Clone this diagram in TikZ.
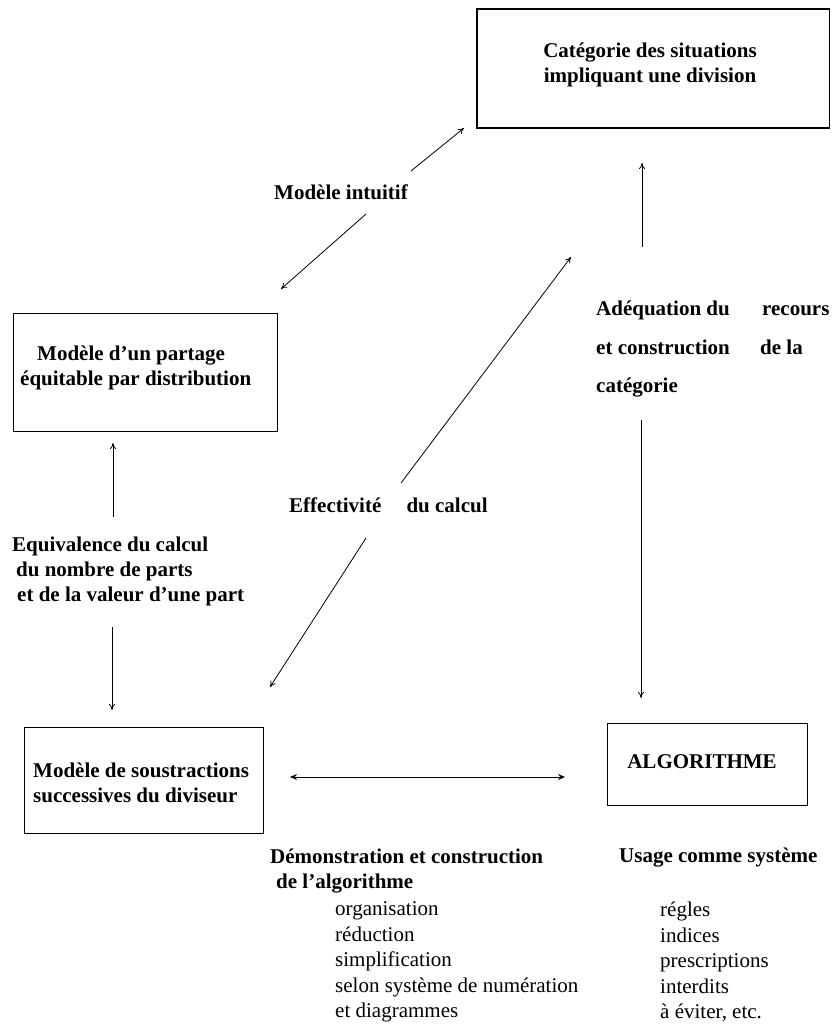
\documentclass[tikz,border=0pt]{standalone}
\usepackage{fontspec}
\setmainfont{Liberation Serif}
\usetikzlibrary{arrows.meta}
\begin{document}
\begin{tikzpicture}[x=1pt,y=-1pt,
  boxstyle/.style={draw, line width=1.1pt, inner sep=0pt},
  bold/.style={inner sep=0pt, font=\fontsize{21}{25}\selectfont\bfseries},
  plain/.style={inner sep=0pt, font=\fontsize{21}{25.5}\selectfont, align=left},
  conn/.style={line width=0.8pt, -{To[length=6pt,width=6pt]}},
  dbl/.style={line width=0.9pt, {Stealth[length=7pt,width=6pt]}-{Stealth[length=7pt,width=6pt]}}
]
\useasboundingbox (0,0) rectangle (831,1028);

% boxes
\draw[boxstyle] (477,9) rectangle (829.5,128);
\node[boxstyle, minimum width=264pt, minimum height=118pt, anchor=north west] (bpartage) at (13,313) {};
\node[boxstyle, minimum width=239pt, minimum height=106pt, anchor=north west] (bsoustr) at (24,727) {};
\node[boxstyle, minimum width=200pt, minimum height=82pt, anchor=north west] (balgo) at (607,723) {};

% texts
\node[bold, align=center] (tcat) at (650,64.5) {Catégorie des situations\\impliquant une division};
\node[bold] (tintuitif) at (341,192) {Modèle intuitif};
\node[bold, align=left, anchor=west] (tpartage) at (20,368) {\hspace*{17pt}Modèle d’un partage\\équitable par distribution};
\node[bold, align=left, anchor=west] (tequiv) at (12,571) {Equivalence du calcul\\\hspace*{4pt}du nombre de parts\\\hspace*{5pt}et de la valeur d’une part};
\node[bold, anchor=west] (teffect) at (289,505) {Effectivité\hspace{20pt} du calcul};
\node[bold, anchor=west, align=left, font=\fontsize{21}{38.5}\selectfont\bfseries] (tadeq) at (596,349.5)
  {\makebox[166pt][l]{Adéquation du}recours\\\makebox[164pt][l]{et construction}de la\\catégorie};
\node[bold, align=left, anchor=west] (tsoustr) at (33,783) {Modèle de soustractions\\successives du diviseur};
\node[bold] (talgo) at (702,762) {ALGORITHME};
\node[bold, align=left, anchor=west] (tdemo) at (270,871) {Démonstration et construction\\\hspace*{6pt}de l’algorithme};
\node[plain, anchor=west] (tlist1) at (335,962) {organisation\\réduction\\simplification\\selon système de numération\\et diagrammes};
\node[bold, anchor=west] (tusage) at (619,858) {Usage comme système};
\node[plain, anchor=west] (tlist2) at (660,962) {régles\\indices\\prescriptions\\interdits\\à éviter, etc.};

% connector end points
\coordinate (a1s) at (411,171); \coordinate (a1e) at (464,128);
\coordinate (a2s) at (366,214); \coordinate (a2e) at (281,289);
\coordinate (a3s) at (642,247); \coordinate (a3e) at (642,163);
\coordinate (a4s) at (401,483); \coordinate (a4e) at (571,257);
\coordinate (a5s) at (366,538); \coordinate (a5e) at (270,687);
\coordinate (a6s) at (113,517); \coordinate (a6e) at (113,443);
\coordinate (a7s) at (112,627); \coordinate (a7e) at (112,710);
\coordinate (a8s) at (641,420); \coordinate (a8e) at (641,698);
\coordinate (a9s) at (290,777); \coordinate (a9e) at (565,777);

\draw[conn] (a1s) -- (a1e);
\draw[conn] (a2s) -- (a2e);
\draw[conn] (a3s) -- (a3e);
\draw[conn] (a4s) -- (a4e);
\draw[conn] (a5s) -- (a5e);
\draw[conn] (a6s) -- (a6e);
\draw[conn] (a7s) -- (a7e);
\draw[conn] (a8s) -- (a8e);
\draw[dbl] (a9s) -- (a9e);
\end{tikzpicture}
\end{document}
